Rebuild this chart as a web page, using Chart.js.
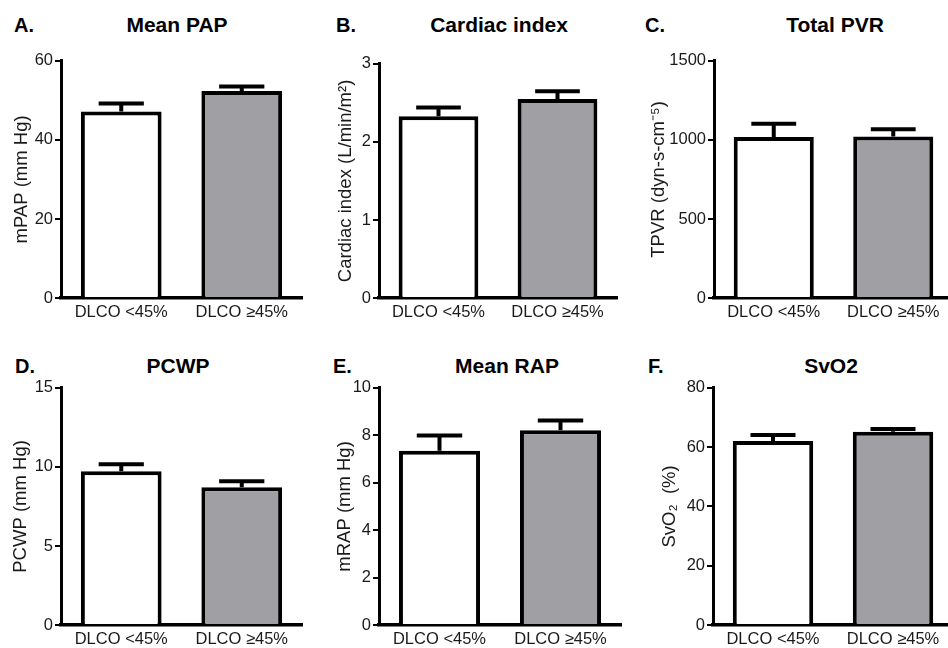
<!DOCTYPE html>
<html>
<head>
<meta charset="utf-8">
<script src="https://cdn.jsdelivr.net/npm/chart.js@4.4.0/dist/chart.umd.min.js"></script>
<style>
  body { margin: 0; width: 948px; height: 648px; overflow: hidden; background: #fff; font-family: "Liberation Sans", Arial, sans-serif; }
  .panel { position: absolute; }
  .letra { position: absolute; font-weight: bold; font-size: 20px; line-height: 20px; color: #000; }
  .titulo { position: absolute; font-weight: bold; font-size: 21px; line-height: 21px; color: #000; transform: translateX(-50%); white-space: nowrap; }
</style>
</head>
<body>
<script>
// datos (media y error estandar)
var grupos = ['DLCO <45%', 'DLCO \u226545%'];

var mpapMedia = [47.2, 52.4];
var mpapError = [2.0, 1.1];
var mpapTicks = [0, 20, 40, 60];

var ciMedia = [2.33, 2.55];
var ciError = [0.11, 0.10];
var ciTicks = [0, 1, 2, 3];

var tpvrMedia = [1018, 1022];
var tpvrError = [84, 46];
var tpvrTicks = [0, 500, 1000, 1500];

var pcwpMedia = [9.72, 8.71];
var pcwpError = [0.45, 0.38];
var pcwpTicks = [0, 5, 10, 15];

var mrapMedia = [7.35, 8.21];
var mrapError = [0.64, 0.42];
var mrapTicks = [0, 2, 4, 6, 8, 10];

var svo2Media = [62.1, 65.2];
var svo2Error = [2.0, 0.9];
var svo2Ticks = [0, 20, 40, 60, 80];

var fuente = '"Liberation Sans", Arial, sans-serif';

var paneles = [
    { letra: 'A.', titulo: 'Mean PAP', ejeY: 'mPAP (mm Hg)', media: mpapMedia, error: mpapError, ticks: mpapTicks,
      left: 11, top: 49, w: 299, h: 279, anchoY: 50, padR: 8, letraX: 14, letraY: 15, tituloX: 177, tituloY: 14 },
    { letra: 'B.', titulo: 'Cardiac index', ejeY: 'Cardiac index (L/min/m\u00b2)', media: ciMedia, error: ciError, ticks: ciTicks,
      left: 335, top: 52, w: 290, h: 276, anchoY: 44, padR: 8, letraX: 336, letraY: 15, tituloX: 499, tituloY: 14 },
    { letra: 'C.', titulo: 'Total PVR', ejeY: 'TPVR (dyn-s-cm\u207b\u2075)', media: tpvrMedia, error: tpvrError, ticks: tpvrTicks,
      left: 648, top: 49, w: 305, h: 279, anchoY: 66, padR: 0, letraX: 645, letraY: 15, tituloX: 835, tituloY: 14 },
    { letra: 'D.', titulo: 'PCWP', ejeY: 'PCWP (mm Hg)', media: pcwpMedia, error: pcwpError, ticks: pcwpTicks,
      left: 10, top: 376, w: 300, h: 279, anchoY: 51, padR: 8, letraX: 15, letraY: 356, tituloX: 178, tituloY: 355 },
    { letra: 'E.', titulo: 'Mean RAP', ejeY: 'mRAP (mm Hg)', media: mrapMedia, error: mrapError, ticks: mrapTicks,
      left: 334, top: 376, w: 295, h: 279, anchoY: 45, padR: 8, letraX: 333, letraY: 356, tituloX: 507, tituloY: 355 },
    { letra: 'F.', titulo: 'SvO2', ejeY: 'SvO\u2082  (%)', media: svo2Media, error: svo2Error, ticks: svo2Ticks,
      left: 659, top: 376, w: 294, h: 279, anchoY: 54, padR: 0, letraX: 648, letraY: 356, tituloX: 831, tituloY: 355 }
];

// barras de error solo hacia arriba
var barrasError = {
    id: 'barrasError',
    afterDatasetsDraw: function(chart, args, opts) {
        var ctx = chart.ctx;
        var escalaY = chart.scales.y;
        var meta = chart.getDatasetMeta(0);
        var datos = chart.data.datasets[0].data;
        ctx.save();
        ctx.strokeStyle = '#000';
        ctx.lineWidth = 4;
        ctx.lineCap = 'butt';
        meta.data.forEach(function(barra, i) {
            var arriba = escalaY.getPixelForValue(datos[i] + opts.error[i]);
            var mitad = barra.width * 0.28;
            ctx.beginPath();
            ctx.moveTo(barra.x, barra.y);
            ctx.lineTo(barra.x, arriba);
            ctx.moveTo(barra.x - mitad, arriba);
            ctx.lineTo(barra.x + mitad, arriba);
            ctx.stroke();
        });
        ctx.restore();
    }
};

paneles.forEach(function(p) {
    var letra = document.createElement('div');
    letra.className = 'letra';
    letra.style.left = p.letraX + 'px';
    letra.style.top = p.letraY + 'px';
    letra.textContent = p.letra;
    document.body.appendChild(letra);

    var titulo = document.createElement('div');
    titulo.className = 'titulo';
    titulo.style.left = p.tituloX + 'px';
    titulo.style.top = p.tituloY + 'px';
    titulo.textContent = p.titulo;
    document.body.appendChild(titulo);

    var caja = document.createElement('div');
    caja.className = 'panel';
    caja.style.left = p.left + 'px';
    caja.style.top = p.top + 'px';
    var canvas = document.createElement('canvas');
    canvas.width = p.w;
    canvas.height = p.h;
    canvas.style.width = p.w + 'px';
    canvas.style.height = p.h + 'px';
    caja.appendChild(canvas);
    document.body.appendChild(caja);

    new Chart(canvas, {
        type: 'bar',
        data: {
            labels: grupos,
            datasets: [{
                data: p.media,
                backgroundColor: ['#ffffff', '#a09fa4'],
                borderColor: '#000',
                borderWidth: 4,
                borderSkipped: 'start',
                barPercentage: 0.67,
                categoryPercentage: 1
            }]
        },
        options: {
            responsive: false,
            devicePixelRatio: 1,
            animation: false,
            layout: { padding: { top: 10, right: p.padR, left: 0, bottom: 0 } },
            plugins: {
                legend: { display: false },
                tooltip: { enabled: false },
                barrasError: { error: p.error }
            },
            scales: {
                x: {
                    offset: true,
                    ticks: { font: { family: fuente, size: 16.5 }, color: '#1a1a1a', padding: 5, maxRotation: 0 },
                    grid: { display: false, drawTicks: false },
                    border: { display: true, color: '#000', width: 3.5 },
                    afterFit: function(s) { s.height = 30; }
                },
                y: {
                    min: 0,
                    max: p.ticks[p.ticks.length - 1],
                    afterBuildTicks: function(s) {
                        s.ticks = p.ticks.map(function(v) { return { value: v }; });
                    },
                    ticks: {
                        font: { family: fuente, size: 16.5 },
                        color: '#1a1a1a',
                        padding: 2,
                        callback: function(v) { return String(v); }
                    },
                    grid: { display: true, drawOnChartArea: false, drawTicks: true, tickLength: 6, color: '#000', lineWidth: 2 },
                    border: { display: true, color: '#000', width: 3 },
                    title: { display: true, text: p.ejeY, font: { family: fuente, size: 18.5 }, color: '#1a1a1a', padding: 0 },
                    afterFit: function(s) { s.width = p.anchoY; }
                }
            }
        },
        plugins: [barrasError]
    });
});
</script>
</body>
</html>
